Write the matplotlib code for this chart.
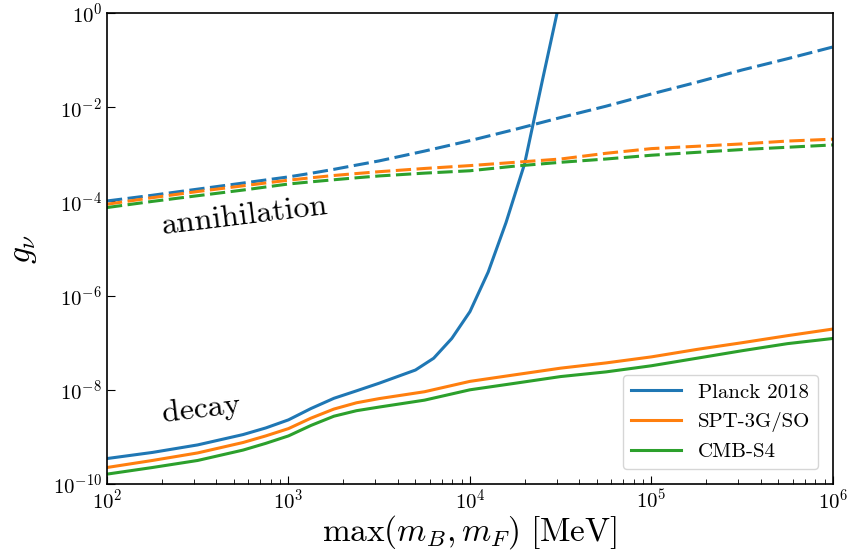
import matplotlib
matplotlib.use("Agg")
import matplotlib.pyplot as plt

plt.rcParams["font.family"] = "cmr10"
plt.rcParams["mathtext.fontset"] = "cm"
plt.rcParams["axes.formatter.use_mathtext"] = True

# masses [MeV], common grid
mass = [1e2, 1.78e2, 3.16e2, 5.62e2, 7.5e2, 1e3, 1.33e3, 1.78e3, 2.37e3,
        3.16e3, 5.62e3, 1e4, 1.78e4, 3.16e4, 5.62e4, 1e5, 1.78e5, 3.16e5,
        5.62e5, 1e6]

# Planck decay bound has its own sampling (blows up near 2e4 MeV)
mass_planck = [1e2, 1.78e2, 3.16e2, 5.62e2, 7.5e2, 1e3, 1.33e3, 1.78e3,
               2.37e3, 3.16e3, 5.01e3, 6.31e3, 7.94e3, 1e4, 1.26e4, 1.58e4,
               2.0e4, 2.51e4, 3.16e4]
decay_planck = [3.47e-10, 4.68e-10, 6.76e-10, 1.12e-9, 1.55e-9, 2.3e-9,
                4.0e-9, 6.6e-9, 9.5e-9, 1.38e-8, 2.63e-8, 4.68e-8, 1.23e-7,
                4.57e-7, 3.16e-6, 3.55e-5, 6.3e-4, 3.8e-2, 2.24]
decay_spt = [2.24e-10, 3.16e-10, 4.57e-10, 7.6e-10, 1.05e-9, 1.5e-9, 2.5e-9,
             3.9e-9, 5.3e-9, 6.5e-9, 9.1e-9, 1.51e-8, 2.09e-8, 2.88e-8,
             3.72e-8, 5.0e-8, 7.2e-8, 1.0e-7, 1.41e-7, 1.95e-7]
decay_s4 = [1.62e-10, 2.24e-10, 3.16e-10, 5.25e-10, 7.3e-10, 1.05e-9, 1.75e-9,
            2.75e-9, 3.6e-9, 4.3e-9, 6.03e-9, 1.0e-8, 1.38e-8, 1.91e-8, 2.4e-8,
            3.24e-8, 4.68e-8, 6.76e-8, 9.55e-8, 1.23e-7]

annih_planck = [1.02e-4, 1.35e-4, 1.82e-4, 2.45e-4, 2.85e-4, 3.31e-4, 3.95e-4,
                4.79e-4, 5.9e-4, 7.24e-4, 1.17e-3, 1.95e-3, 3.39e-3, 6.03e-3,
                1.05e-2, 1.91e-2, 3.39e-2, 6.17e-2, 0.107, 0.19]
annih_spt = [8.7e-5, 1.2e-4, 1.62e-4, 2.14e-4, 2.46e-4, 2.82e-4, 3.17e-4,
             3.55e-4, 3.9e-4, 4.27e-4, 5.0e-4, 5.75e-4, 6.76e-4, 7.94e-4,
             1.05e-3, 1.32e-3, 1.48e-3, 1.66e-3, 1.91e-3, 2.09e-3]
annih_s4 = [7.4e-5, 1.0e-4, 1.32e-4, 1.74e-4, 2.02e-4, 2.34e-4, 2.6e-4,
            2.88e-4, 3.17e-4, 3.47e-4, 3.98e-4, 4.47e-4, 5.62e-4, 6.76e-4,
            7.94e-4, 9.55e-4, 1.1e-3, 1.26e-3, 1.41e-3, 1.58e-3]

labels = ["Planck 2018", "SPT-3G/SO", "CMB-S4"]
colors = ["C0", "C1", "C2"]

fig = plt.figure(figsize=(8.51, 5.5), dpi=100)
ax = fig.add_axes([0.1257, 0.12, 0.8531, 0.8564])

lw = 2.2
dash = (5, 1.8)
ax.plot(mass_planck, decay_planck, color=colors[0], lw=lw, label=labels[0])
ax.plot(mass, decay_spt, color=colors[1], lw=lw, label=labels[1])
ax.plot(mass, decay_s4, color=colors[2], lw=lw, label=labels[2])
ax.plot(mass, annih_planck, color=colors[0], lw=lw, ls="--", dashes=dash)
ax.plot(mass, annih_spt, color=colors[1], lw=lw, ls="--", dashes=dash)
ax.plot(mass, annih_s4, color=colors[2], lw=lw, ls="--", dashes=dash)

ax.set_xscale("log")
ax.set_yscale("log")
ax.set_xlim(1e2, 1e6)
ax.set_ylim(1e-10, 1e0)

ax.text(575, 4.9e-5, "annihilation", fontsize=23, rotation=7,
        ha="center", va="center")
ax.text(330, 3.9e-9, "decay", fontsize=23, rotation=7,
        ha="center", va="center")

ax.set_xlabel(r"$\max(m_B, m_F)\ [\mathrm{MeV}]$", fontsize=24, labelpad=0)
ax.set_ylabel(r"$g_\nu$", fontsize=24, labelpad=10)

ax.tick_params(which="both", direction="in", labelsize=15)
ax.tick_params(which="major", length=6)
ax.tick_params(which="minor", length=3.5)
for s in ax.spines.values():
    s.set_linewidth(1.2)

ax.legend(loc="lower right", fontsize=15, handlelength=2.4,
          borderaxespad=0.7)

fig.savefig("out.png", dpi=100)
